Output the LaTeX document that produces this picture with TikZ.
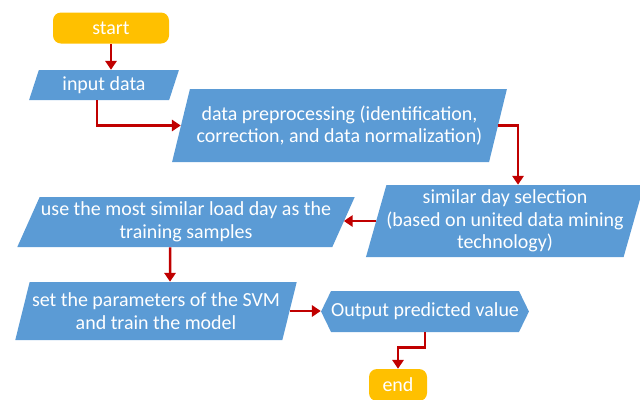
\documentclass[tikz,border=0pt]{standalone}
\usepackage{fontspec}
\setmainfont{Carlito}
\usetikzlibrary{positioning,shapes.geometric,shapes.symbols,arrows.meta}
\definecolor{boxblue}{HTML}{5B9BD5}
\definecolor{termgold}{HTML}{FFC000}
\definecolor{flowred}{HTML}{C00000}
\tikzset{
  term/.style  = {rectangle, rounded corners=0.2cm, fill=termgold, text=white, inner sep=0, font=\fontsize{14.2}{16.2}\selectfont},
  io/.style    = {trapezium, trapezium stretches=true, fill=boxblue, text=white, inner sep=0, align=center, font=\fontsize{14.2}{16.2}\selectfont},
  outbox/.style= {signal, signal to=west and east, signal pointer angle=128, fill=boxblue, text=white, inner sep=0, font=\fontsize{14.2}{16.2}\selectfont},
  flow/.style  = {draw=flowred, line width=1.8pt, -{Triangle[width=0.28cm,length=0.22cm]}}
}
\begin{document}
\begin{tikzpicture}
  \useasboundingbox (0,0) rectangle (16,-9.975);
  % flusso: start -> dati -> preelaborazione -> giorni simili -> SVM -> uscita -> end
  \node[term, minimum width=2.9cm, minimum height=0.775cm] (start) at (2.775,-0.7) {start};
  \node[io, trapezium left angle=70, trapezium right angle=110, minimum width=3.75cm, minimum height=0.75cm] (in) at (2.6,-2.125) {input data};
  \node[io, trapezium left angle=67, trapezium right angle=113, minimum width=8.375cm, minimum height=1.825cm] (pre) at (8.4875,-3.1375) {data preprocessing (identification,\\correction, and data normalization)};
  \node[io, trapezium left angle=72, trapezium right angle=108, minimum width=6.75cm, minimum height=1.8cm] (sim) at (12.625,-5.525) {similar day selection\\(based on united data mining\\technology)};
  \node[io, trapezium left angle=61, trapezium right angle=119, minimum width=8.45cm, minimum height=1.25cm] (use) at (4.65,-5.55) {use the most similar load day as the\\training samples};
  \node[io, trapezium left angle=69, trapezium right angle=111, minimum width=7.05cm, minimum height=1.45cm] (set) at (3.9,-7.775) {set the parameters of the SVM\\and train the model};
  \node[outbox, minimum width=4.9cm, minimum height=1.025cm] (out) at (10.625,-7.7875) {Output predicted value};
  \node[term, minimum width=1.45cm, minimum height=0.8cm] (end) at (9.95,-9.625) {end};

  \draw[flow] (start.south) -- (start.south |- in.north);
  \draw[flow] ([xshift=-0.175cm]in.south) |- (pre.west);
  \draw[flow] (pre.east) -| ([xshift=0.325cm]sim.north);
  \draw[flow] (sim.west) -- (sim.west -| use.east);
  \draw[flow] ([xshift=-0.4cm]use.south) -- ([xshift=0.35cm]set.north);
  \draw[flow] (set.east) -- (set.east -| out.west);
  \draw[flow] (out.south) -- ++(0,-0.375) -| (end.north);
\end{tikzpicture}
\end{document}
